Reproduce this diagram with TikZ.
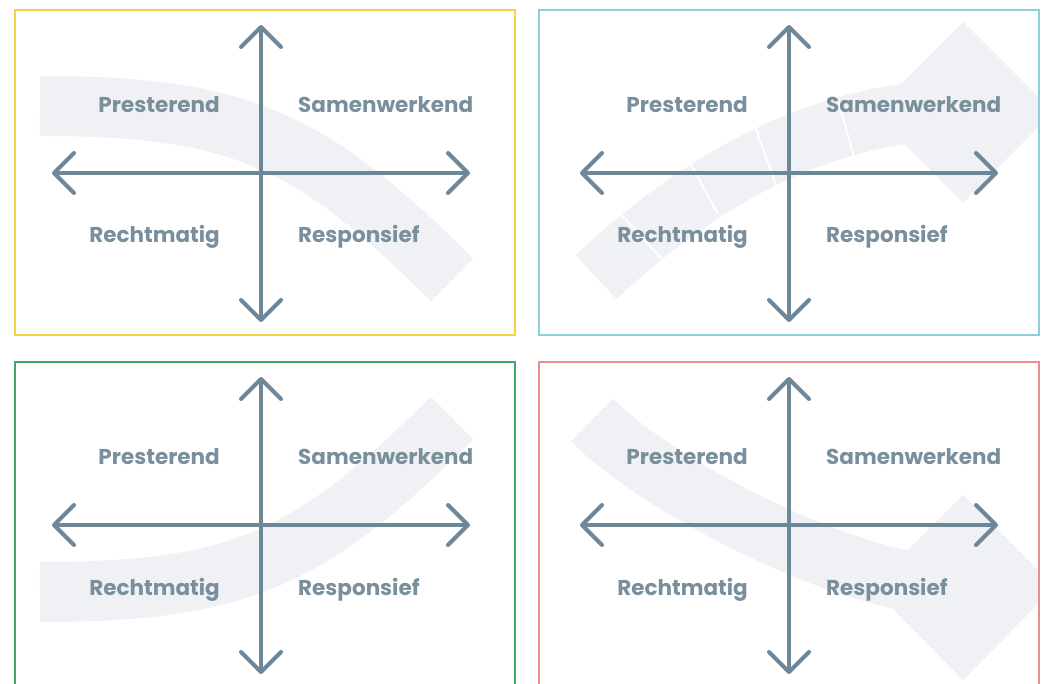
\documentclass[tikz,border=0pt]{standalone}
\usepackage{fontspec}
\setmainfont{Poppins}
\usetikzlibrary{arrows.meta}
\definecolor{axisc}{HTML}{6E8796}
\definecolor{labc}{HTML}{7A8F9C}
\definecolor{bandc}{HTML}{EFF1F4}
\definecolor{geel}{HTML}{F3D24E}
\definecolor{cyaan}{HTML}{8ECFDB}
\definecolor{groen}{HTML}{3DAA66}
\definecolor{rood}{HTML}{EC8C8C}
\tikzset{
  axis/.style={draw=axisc, line width=4pt,
    {Straight Barb[length=20pt,width=40pt,round]}-{Straight Barb[length=20pt,width=40pt,round]}},
  lab/.style={font=\bfseries\fontsize{21.5}{25}\selectfont, text=labc, inner sep=0pt},
  frame/.style={line width=2.5pt},
  band/.style={draw=bandc, line width=60pt, line cap=butt},
  gap/.style={draw=white, line width=2pt}
}
\newcommand{\kwadrant}[3]{%
  \coordinate (#1t) at (#2,#3-148);
  \coordinate (#1b) at (#2,#3+149);
  \coordinate (#1l) at (#2-209,#3);
  \coordinate (#1r) at (#2+209,#3);
  \draw[axis] (#1b) -- (#1t);
  \draw[axis] (#1l) -- (#1r);
  \node[lab, anchor=base east] (#1pres) at (#2-41,#3-60) {Presterend};
  \node[lab, anchor=base west] (#1samen) at (#2+37,#3-60) {Samenwerkend};
  \node[lab, anchor=base east] (#1recht) at (#2-41,#3+70) {Rechtmatig};
  \node[lab, anchor=base west] (#1resp) at (#2+37,#3+70) {Responsief};
}
\begin{document}
\begin{tikzpicture}[x=1pt,y=-1pt]
\useasboundingbox (0,0) rectangle (1042,684);
\clip (0,0) rectangle (1042,684);
\fill[white] (0,0) rectangle (1042,684);
% panel 1 band
\begin{scope}
  \clip (15,10) rectangle (515,335);
  \draw[band] (40,106) .. controls (240,106) and (311,139) .. (452,280);
\end{scope}
% panel 2 band (segmented arrow)
\begin{scope}
  \clip (539,10) rectangle (1039,335);
  \draw[band] (596,277) .. controls (713,168) and (821,122) .. (921,112);
  \fill[bandc] (963,22) -- (1053,112) -- (963,203) -- (873,112) -- cycle;
  \draw[gap] (614,207) -- (663,260);
  \draw[gap] (684,152) -- (718,214);
  \draw[gap] (751,115) -- (777,188);
  \draw[gap] (838,100) -- (856,164);
\end{scope}
% panel 3 band
\begin{scope}
  \clip (15,362) rectangle (515,700);
  \draw[band] (40,592) .. controls (240,592) and (311,559) .. (452,418);
\end{scope}
% panel 4 band
\begin{scope}
  \clip (539,362) rectangle (1039,700);
  \draw[band] (592,420) .. controls (663,491) and (830,570) .. (915,582);
  \fill[bandc] (963,495) -- (1055,587) -- (963,680) -- (871,587) -- cycle;
\end{scope}
% frames
\draw[frame, geel] (15,10) rectangle (515,335);
\draw[frame, cyaan] (539,10) rectangle (1039,335);
\draw[frame, groen] (15,362) rectangle (515,700);
\draw[frame, rood] (539,362) rectangle (1039,700);
% axes and labels
\kwadrant{a}{261}{173}
\kwadrant{b}{789}{173}
\kwadrant{c}{261}{525}
\kwadrant{d}{789}{525}
\end{tikzpicture}
\end{document}
